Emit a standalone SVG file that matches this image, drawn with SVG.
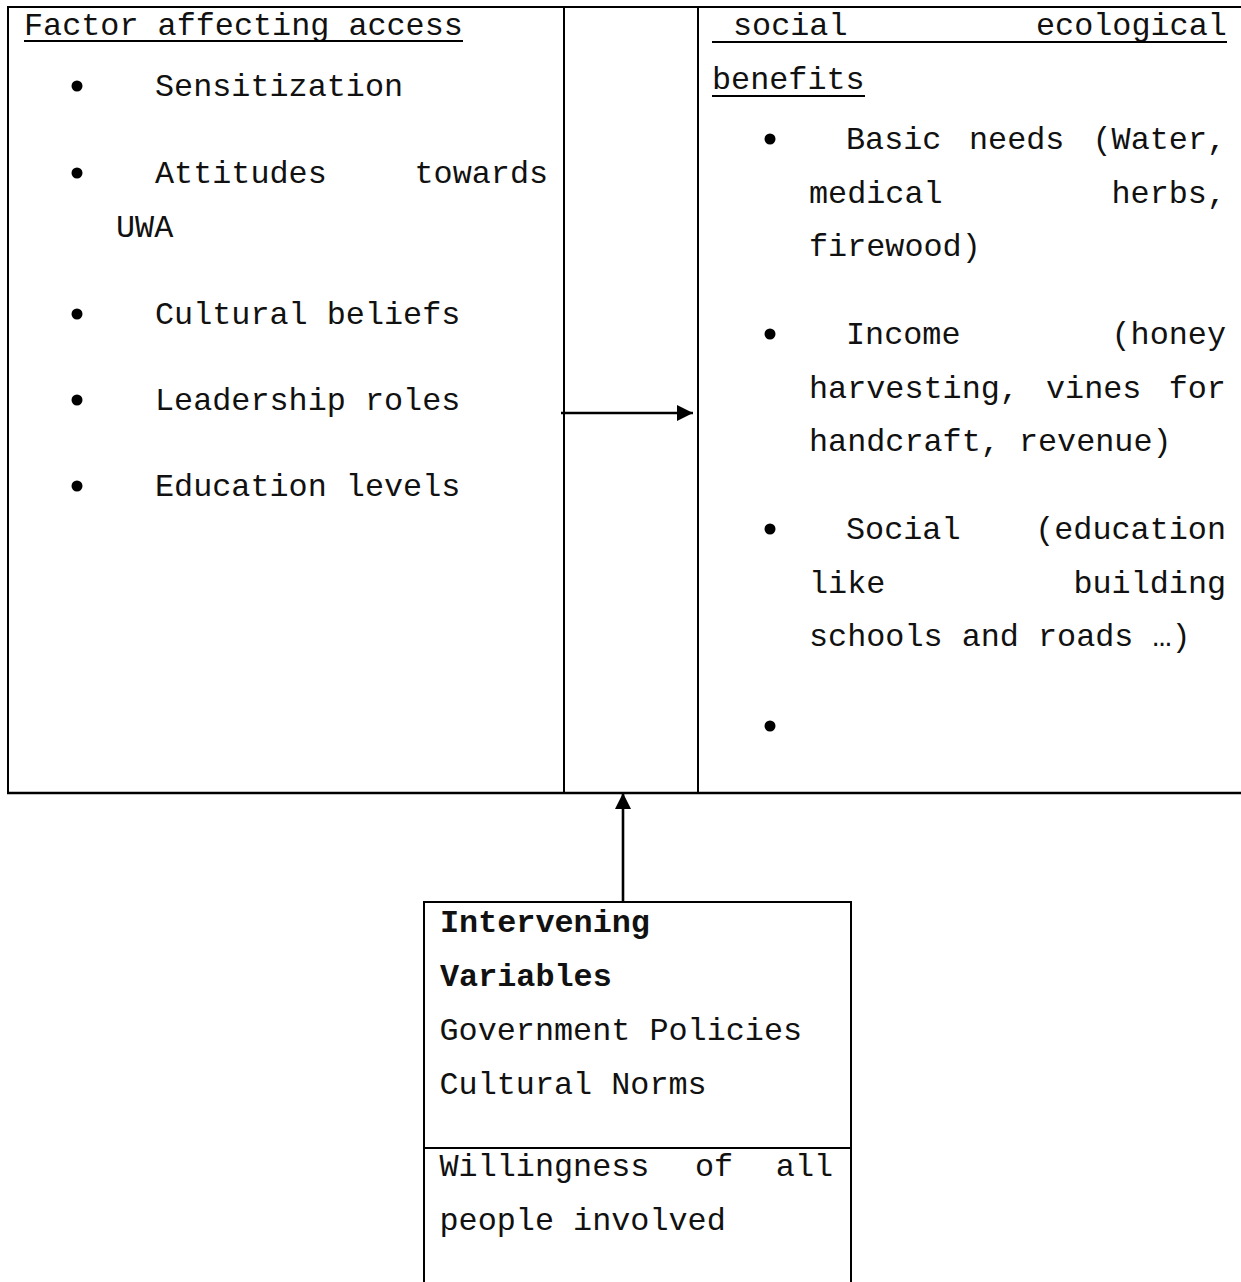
<svg xmlns="http://www.w3.org/2000/svg" width="1241" height="1282" viewBox="0 0 1241 1282">
<style>
  text { font-family: "Liberation Mono", "Courier New", monospace; font-size: 31.8px; fill: #111; }
  .b { font-weight: bold; }
  .frame { fill: none; stroke: #000; stroke-width: 2; }
  .ul { stroke: #000; stroke-width: 2; }
  .conn { stroke: #000; stroke-width: 2.6; fill: none; }
</style>
<defs>
  <marker id="ah" markerUnits="userSpaceOnUse" markerWidth="17" markerHeight="17" refX="16" refY="8" orient="auto">
    <path d="M0,0 L16,8 L0,16 Z" fill="#000"/>
  </marker>
</defs>
<rect width="1241" height="1282" fill="#fff"/>

<g id="table-frame">
  <line class="frame" x1="7" y1="7" x2="1241" y2="7"/>
  <line class="frame" x1="8" y1="6" x2="8" y2="794"/>
  <line class="frame" x1="564" y1="6" x2="564" y2="794"/>
  <line class="frame" x1="698" y1="6" x2="698" y2="794"/>
  <line class="frame" x1="7" y1="793" x2="1241" y2="793" style="stroke-width:2.6"/>
</g>

<g id="node-factors">
  <text x="24" y="35">Factor affecting access</text>
  <line class="ul" x1="24" y1="41" x2="463" y2="41"/>
  <circle cx="77" cy="86" r="5.5"/>
  <text x="155" y="96">Sensitization</text>
  <circle cx="77" cy="173" r="5.5"/>
  <text x="155" y="183">Attitudes</text>
  <text x="414.5" y="183">towards</text>
  <text x="116" y="237">UWA</text>
  <circle cx="77" cy="314" r="5.5"/>
  <text x="155" y="324">Cultural beliefs</text>
  <circle cx="77" cy="400" r="5.5"/>
  <text x="155" y="410">Leadership roles</text>
  <circle cx="77" cy="486" r="5.5"/>
  <text x="155" y="496">Education levels</text>
</g>

<g id="node-benefits">
  <text x="733" y="35">social</text>
  <text x="1036" y="35">ecological</text>
  <line class="ul" x1="712" y1="42" x2="1227" y2="42"/>
  <text x="712" y="89">benefits</text>
  <line class="ul" x1="712" y1="96" x2="865" y2="96"/>
  <circle cx="770" cy="139" r="5.5"/>
  <text x="846" y="149">Basic</text>
  <text x="969" y="149">needs</text>
  <text x="1092.5" y="149">(Water,</text>
  <text x="809" y="203">medical</text>
  <text x="1111.5" y="203">herbs,</text>
  <text x="809" y="256">firewood)</text>
  <circle cx="770" cy="334" r="5.5"/>
  <text x="846" y="344">Income</text>
  <text x="1111.5" y="344">(honey</text>
  <text x="809" y="398">harvesting,</text>
  <text x="1046" y="398">vines</text>
  <text x="1168.7" y="398">for</text>
  <text x="809" y="451">handcraft, revenue)</text>
  <circle cx="770" cy="529" r="5.5"/>
  <text x="846" y="539">Social</text>
  <text x="1035.2" y="539">(education</text>
  <text x="809" y="593">like</text>
  <text x="1073.4" y="593">building</text>
  <text x="809" y="646">schools and roads …)</text>
  <circle cx="770" cy="726" r="5.5"/>
</g>

<g id="node-intervening">
  <line class="frame" x1="424" y1="902" x2="851" y2="902"/>
  <line class="frame" x1="424" y1="901" x2="424" y2="1282"/>
  <line class="frame" x1="851" y1="901" x2="851" y2="1282"/>
  <line class="frame" x1="424" y1="1148" x2="851" y2="1148"/>
  <text class="b" x="440" y="932">Intervening</text>
  <text class="b" x="440" y="986">Variables</text>
  <text x="439.5" y="1040">Government Policies</text>
  <text x="439.5" y="1094">Cultural Norms</text>
  <text x="439.5" y="1176">Willingness</text>
  <text x="695" y="1176">of</text>
  <text x="775.8" y="1176">all</text>
  <text x="439.5" y="1230">people involved</text>
</g>

<g id="connectors">
  <line class="conn" x1="561" y1="413" x2="693" y2="413" marker-end="url(#ah)"/>
  <line class="conn" x1="623" y1="902" x2="623" y2="793" marker-end="url(#ah)"/>
</g>
</svg>
